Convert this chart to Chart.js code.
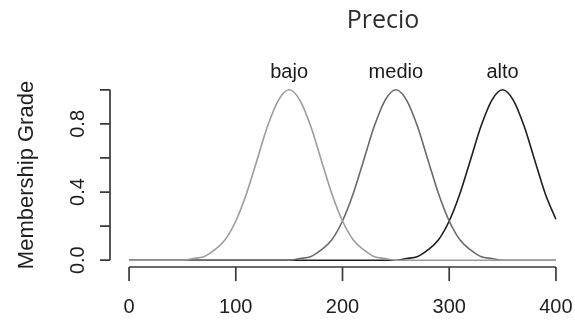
<!DOCTYPE html>
<html>
<head>
<meta charset="utf-8">
<title>Precio</title>
<script src="https://cdn.jsdelivr.net/npm/chart.js@4"></script>
<style>
    html, body { margin: 0; padding: 0; background: #ffffff; }
    #wrap { width: 575px; height: 322px; }
</style>
</head>
<body>
<div id="wrap"><canvas id="precioChart" width="575" height="322"></canvas></div>
<script>
// Données (x de 0 à 400, pas de 10)
const xValues = [0, 10, 20, 30, 40, 50, 60, 70, 80, 90, 100, 110, 120, 130, 140, 150, 160, 170, 180, 190,
    200, 210, 220, 230, 240, 250, 260, 270, 280, 290, 300, 310, 320, 330, 340, 350, 360, 370, 380, 390, 400];

const bajo = [0, 0, 0, 0, 0, 0, 0.01, 0.02, 0.06, 0.12, 0.23, 0.39, 0.59, 0.79, 0.94, 1.00, 0.94, 0.79, 0.59, 0.39,
    0.23, 0.12, 0.06, 0.02, 0.01, 0, 0, 0, 0, 0, 0, 0, 0, 0, 0, 0, 0, 0, 0, 0, 0];
const medio = [0, 0, 0, 0, 0, 0, 0, 0, 0, 0, 0, 0, 0, 0, 0, 0, 0.01, 0.02, 0.06, 0.12,
    0.23, 0.39, 0.59, 0.79, 0.94, 1.00, 0.94, 0.79, 0.59, 0.39, 0.23, 0.12, 0.06, 0.02, 0.01, 0, 0, 0, 0, 0, 0];
const alto = [0, 0, 0, 0, 0, 0, 0, 0, 0, 0, 0, 0, 0, 0, 0, 0, 0, 0, 0, 0,
    0, 0, 0, 0, 0, 0, 0.01, 0.02, 0.06, 0.12, 0.23, 0.39, 0.59, 0.79, 0.94, 1.00, 0.94, 0.79, 0.59, 0.39, 0.24];

const seriesNames = ['bajo', 'medio', 'alto'];
const seriesPeaks = [150, 250, 350];

const xTicks = [0, 100, 200, 300, 400];
const yTicks = [0, 0.2, 0.4, 0.6, 0.8, 1.0];
const yTickLabels = ['0.0', '', '0.4', '', '0.8', ''];

const chartTitle = 'Precio';
const yTitle = 'Membership Grade';

function toPoints(values) {
    return values.map((v, i) => ({ x: xValues[i], y: v }));
}

// Axes façon R : ligne du premier au dernier tick, décalées de la zone de tracé
const rAxesPlugin = {
    id: 'rAxes',
    afterDraw(chart) {
        const ctx = chart.ctx;
        const xs = chart.scales.x;
        const ys = chart.scales.y;
        const area = chart.chartArea;
        const axisColor = '#3a3a3a';
        const yAxisX = 110;
        const xAxisY = area.bottom;

        ctx.save();
        ctx.strokeStyle = axisColor;
        ctx.lineWidth = 1.7;

        // axe x
        ctx.beginPath();
        ctx.moveTo(xs.getPixelForValue(xTicks[0]), xAxisY);
        ctx.lineTo(xs.getPixelForValue(xTicks[xTicks.length - 1]), xAxisY);
        xTicks.forEach(t => {
            const px = xs.getPixelForValue(t);
            ctx.moveTo(px, xAxisY);
            ctx.lineTo(px, xAxisY + 14);
        });
        ctx.stroke();

        // axe y
        ctx.beginPath();
        ctx.moveTo(yAxisX, ys.getPixelForValue(yTicks[0]));
        ctx.lineTo(yAxisX, ys.getPixelForValue(yTicks[yTicks.length - 1]));
        yTicks.forEach(t => {
            const py = ys.getPixelForValue(t);
            ctx.moveTo(yAxisX, py);
            ctx.lineTo(yAxisX - 10, py);
        });
        ctx.stroke();

        // labels des ticks x
        ctx.fillStyle = '#1e1e1e';
        ctx.font = '20px "Liberation Sans", Arial, sans-serif';
        ctx.textAlign = 'center';
        ctx.textBaseline = 'alphabetic';
        xTicks.forEach(t => {
            ctx.fillText(String(t), xs.getPixelForValue(t), 313);
        });

        // labels des ticks y (tournés)
        yTicks.forEach((t, i) => {
            if (!yTickLabels[i]) return;
            ctx.save();
            ctx.translate(84, ys.getPixelForValue(t));
            ctx.rotate(-Math.PI / 2);
            ctx.fillText(yTickLabels[i], 0, 0);
            ctx.restore();
        });

        // titre de l'axe y
        ctx.save();
        ctx.font = '22px "Liberation Sans", Arial, sans-serif';
        ctx.translate(33, ys.getPixelForValue(0.5));
        ctx.rotate(-Math.PI / 2);
        ctx.fillText(yTitle, 0, 0);
        ctx.restore();

        // noms des courbes au-dessus des pics
        ctx.fillStyle = '#1a1a1a';
        ctx.font = '20px "Liberation Sans", Arial, sans-serif';
        seriesNames.forEach((name, i) => {
            ctx.fillText(name, xs.getPixelForValue(seriesPeaks[i]), 78);
        });

        // titre
        ctx.fillStyle = '#2e2e2e';
        ctx.font = '25px "Open Sans", sans-serif';
        ctx.fillText(chartTitle, 383, 28);

        ctx.restore();
    }
};

function createPrecioChart() {
    const canvas = document.getElementById('precioChart');
    if (!canvas) {
        console.error('Canvas precioChart non trouvé');
        return null;
    }
    const ctx = canvas.getContext('2d');

    const lineStyle = {
        fill: false,
        pointRadius: 0,
        borderWidth: 1.6,
        cubicInterpolationMode: 'monotone'
    };

    return new Chart(ctx, {
        type: 'line',
        data: {
            datasets: [
                Object.assign({ label: 'bajo', data: toPoints(bajo), borderColor: '#9c9c9c' }, lineStyle),
                Object.assign({ label: 'medio', data: toPoints(medio), borderColor: '#6a6a6a' }, lineStyle),
                Object.assign({ label: 'alto', data: toPoints(alto), borderColor: '#1e1e1e' }, lineStyle)
            ]
        },
        options: {
            responsive: false,
            animation: false,
            layout: {
                padding: { left: 112, right: 2, top: 83, bottom: 55 }
            },
            scales: {
                x: { type: 'linear', min: -16, max: 416, display: false },
                y: { type: 'linear', min: -0.04, max: 1.04, display: false }
            },
            plugins: {
                legend: { display: false },
                tooltip: { enabled: false },
                title: { display: false }
            }
        },
        plugins: [rAxesPlugin]
    });
}

window.precioChart = createPrecioChart();
</script>
</body>
</html>
